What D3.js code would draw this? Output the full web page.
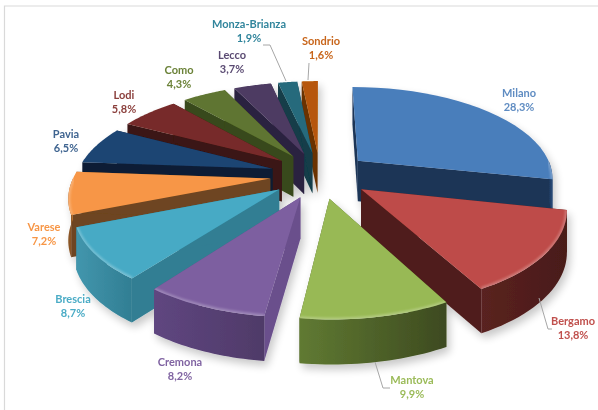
<!DOCTYPE html>
<html>
<head>
<meta charset="utf-8">
<script src="https://cdn.jsdelivr.net/npm/d3@7"></script>
<style>
html,body{margin:0;padding:0;background:#fff}
svg{display:block}
text{font-family:Lato,"Open Sans",sans-serif;font-weight:700;font-size:11px;text-anchor:middle}
</style>
</head>
<body>
<svg id="chart" width="598" height="410"></svg>
<script>
// Provinces of Lombardy, share of the regional total (%)
const provinces = ["Milano","Bergamo","Mantova","Cremona","Brescia","Varese","Pavia","Lodi","Como","Lecco","Monza-Brianza","Sondrio"];
const shares = [28.3,13.8,9.9,8.2,8.7,7.2,6.5,5.8,4.3,3.7,1.9,1.6];
const shareLabels = ["28,3%","13,8%","9,9%","8,2%","8,7%","7,2%","6,5%","5,8%","4,3%","3,7%","1,9%","1,6%"];

// Slice colours: top face, radial wall, outer wall (light end, dark end), label
const topColors = ["#4a7ebb","#be4b48","#98b954","#7d5fa0","#46aac5","#f79646","#1f4473","#772c2a","#5f7530","#4d3b62","#276a7c","#b65708"];
const wallColors = ["#1c3557","#4f1d1b","#4f6228","#6a4f8c","#317e93","#6e4520","#0d1f36","#3a1312","#384a1a","#2c2040","#123d48","#6a3205"];
const rimLight = ["#2a4d7c","#5a2220","#607a32","#5f4680","#4296ad","#c47a38","#173a60","#4c1c1b","#465c24","#38294a","#1a4d5b","#8a4306"];
const rimDark = ["#1c3557","#491b19","#3d4a20","#4f3a68","#317e93","#8a5525","#0d1f36","#3a1312","#384a1a","#2c2040","#123d48","#6a3205"];
const labelColors = ["#5f8cc2","#c0504d","#9bbb59","#8064a2","#4bacc6","#f79646","#3f6490","#8b3f3c","#6b8238","#5a4a72","#31859c","#c8651a"];

// Label anchors and leader lines, in page pixels
const labelSpots = [[519,101],[573,329],[412,388],[180,370],[73,307],[44,235],[66,142],[124,103],[179,78],[232,63],[249,32],[321,49]];
const leaders = [
  [[539,298],[548,329],[552,329]],
  [[375,362],[383,388],[390,388]],
  [[263,45],[270,45],[286,81]],
  [[309,63],[308,80]]
];

const width = 598, height = 410;
const cx = 320, cy = 175;        // pie centre on the page
const radiusX = 200, radiusY = 92.7;
const perspective = 0.174;       // growth of nearer ground points
const explode = 0.25;            // slice offset, in radii
const rimRadius = 0.98;
const thickness = 41;

const svg = d3.select("#chart");
const defs = svg.append("defs");

const shadow = defs.append("filter").attr("id","soft").attr("x","-20%").attr("y","-20%").attr("width","140%").attr("height","140%");
shadow.append("feGaussianBlur").attr("in","SourceAlpha").attr("stdDeviation",4).attr("result","b");
shadow.append("feOffset").attr("in","b").attr("dx",3).attr("dy",5).attr("result","o");
shadow.append("feComponentTransfer").attr("in","o").attr("result","s")
  .append("feFuncA").attr("type","linear").attr("slope",0.22);
const merge = shadow.append("feMerge");
merge.append("feMergeNode").attr("in","s");
merge.append("feMergeNode").attr("in","SourceGraphic");

defs.append("filter").attr("id","bevel").attr("x","-10%").attr("y","-10%").attr("width","120%").attr("height","120%")
  .append("feGaussianBlur").attr("stdDeviation",1.1);

// Thin frame along the top and left of the page
svg.append("path").attr("d", d3.line()([[598,6],[4.5,6],[4.5,410]]))
  .attr("fill","none").attr("stroke","#d9d9d9").attr("stroke-width",1.2);

// Ground plane (u right, v toward the viewer) to page pixels
const project = (u, v, drop = 0) => {
  const s = 1 / (1 - perspective * v);
  return [cx + radiusX * u * s, cy + radiusY * v * s + drop * (1 + 0.08 * v)];
};

const pie = d3.pie().sort(null).value(d => d).startAngle(0).endAngle(2 * Math.PI);
const arcs = pie(shares).map((a, i) => {
  const mid = (a.startAngle + a.endAngle) / 2;
  return {
    i, a0: a.startAngle, a1: a.endAngle,
    ox: explode * Math.sin(mid), oy: -explode * Math.cos(mid)
  };
});

const rim = (d, t) => [d.ox + rimRadius * Math.sin(t), d.oy - rimRadius * Math.cos(t)];
const samples = (from, to) => d3.range(0, 25).map(k => from + (to - from) * k / 24);
const line = d3.line();

// Back slices first, so nearer ones cover them
const order = arcs.slice().sort((p, q) => p.oy - q.oy);
const pieGroup = svg.append("g").attr("filter","url(#soft)");

order.forEach(d => {
  const g = pieGroup.append("g");
  const apex = [d.ox, d.oy];
  const wall = t => {
    const e = rim(d, t);
    return [project(...apex), project(...e), project(...e, thickness), project(...apex, thickness)];
  };
  g.append("path").attr("d", line(wall(d.a0)) + "Z").attr("fill", wallColors[d.i]);
  g.append("path").attr("d", line(wall(d.a1)) + "Z").attr("fill", wallColors[d.i]);

  // Outer wall only on the part of the rim that faces the viewer
  const from = Math.max(d.a0, Math.PI / 2), to = Math.min(d.a1, 3 * Math.PI / 2);
  if (to > from) {
    const ts = samples(from, to);
    const upper = ts.map(t => project(...rim(d, t)));
    const lower = ts.map(t => project(...rim(d, t), thickness)).reverse();
    const gid = "rim" + d.i;
    const x0 = upper[0][0], x1 = upper[upper.length - 1][0];
    const grad = defs.append("linearGradient").attr("id", gid).attr("gradientUnits","userSpaceOnUse")
      .attr("x1", x1).attr("x2", x0).attr("y1", 0).attr("y2", 0);
    grad.append("stop").attr("offset", 0).attr("stop-color", rimLight[d.i]);
    grad.append("stop").attr("offset", 1).attr("stop-color", rimDark[d.i]);
    g.append("path").attr("d", line(upper.concat(lower)) + "Z").attr("fill", `url(#${gid})`);
  }

  // Top face with a soft light edge along the near rim
  const outline = [project(...apex)].concat(samples(d.a0, d.a1).map(t => project(...rim(d, t))));
  const clip = "top" + d.i;
  defs.append("clipPath").attr("id", clip).append("path").attr("d", line(outline) + "Z");
  g.append("path").attr("d", line(outline) + "Z").attr("fill", topColors[d.i]);
  if (to > from) {
    g.append("g").attr("clip-path", `url(#${clip})`).append("path")
      .attr("d", line(samples(from, to).map(t => project(...rim(d, t)))))
      .attr("fill","none").attr("stroke","#fff").attr("stroke-opacity",0.25).attr("stroke-width",4)
      .attr("filter","url(#bevel)");
  }
});

// Leader lines
svg.append("g").selectAll("path").data(leaders).join("path")
  .attr("d", d => line(d)).attr("fill","none").attr("stroke","#a6a6a6").attr("stroke-width",1);

// Name and share, two lines per slice
const labels = svg.append("g").selectAll("text").data(provinces).join("text")
  .attr("fill", (d, i) => labelColors[i])
  .attr("transform", (d, i) => `translate(${labelSpots[i][0]},${labelSpots[i][1]})`);
labels.append("tspan").attr("x",0).attr("y",-4).text(d => d);
labels.append("tspan").attr("x",0).attr("y",10).text((d, i) => shareLabels[i]);
</script>
</body>
</html>
